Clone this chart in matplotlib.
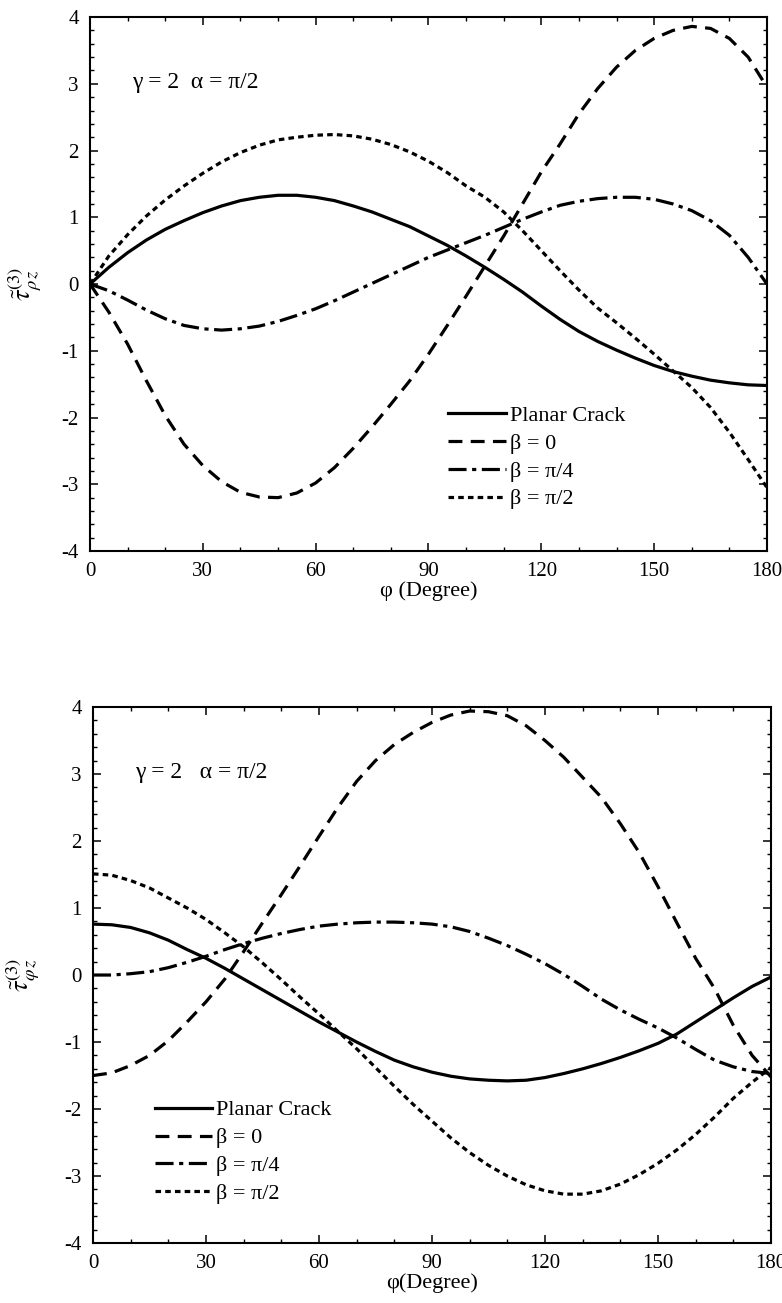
import numpy as np
import matplotlib
matplotlib.use("Agg")
import matplotlib.pyplot as plt
from matplotlib.ticker import MultipleLocator

plt.rcParams["font.family"] = ["Liberation Serif", "DejaVu Serif"]
plt.rcParams["mathtext.fontset"] = "stix"
plt.rcParams["axes.unicode_minus"] = False
plt.rcParams["lines.scale_dashes"] = False

# angle phi in degrees, sampled every 5 degrees
phi = np.arange(0, 181, 5)

# tau_rho_z
rz_planar = [0.00, 0.25, 0.47, 0.66, 0.82, 0.95, 1.07, 1.17, 1.25, 1.30,
             1.33, 1.33, 1.30, 1.25, 1.17, 1.08, 0.97, 0.86, 0.72, 0.58,
             0.42, 0.25, 0.07, -0.12, -0.33, -0.53, -0.71, -0.86, -0.99, -1.11,
             -1.22, -1.31, -1.38, -1.44, -1.48, -1.51, -1.52]
rz_beta0 = [0.00, -0.42, -0.90, -1.45, -1.97, -2.40, -2.72, -2.96, -3.12, -3.19,
            -3.20, -3.13, -2.98, -2.75, -2.46, -2.14, -1.80, -1.45, -1.05, -0.62,
            -0.18, 0.27, 0.72, 1.20, 1.68, 2.10, 2.55, 2.93, 3.25, 3.50,
            3.68, 3.80, 3.86, 3.83, 3.68, 3.40, 2.95]
rz_beta45 = [0.00, -0.10, -0.24, -0.39, -0.52, -0.62, -0.67, -0.69, -0.67, -0.63,
             -0.56, -0.47, -0.37, -0.25, -0.12, 0.01, 0.14, 0.27, 0.40, 0.51,
             0.62, 0.73, 0.85, 0.97, 1.08, 1.18, 1.24, 1.28, 1.30, 1.30,
             1.27, 1.20, 1.10, 0.95, 0.73, 0.40, 0.00]
rz_beta90 = [0.00, 0.42, 0.74, 1.02, 1.26, 1.47, 1.66, 1.83, 1.97, 2.08,
             2.16, 2.20, 2.23, 2.24, 2.22, 2.17, 2.09, 1.98, 1.84, 1.67,
             1.47, 1.30, 1.08, 0.80, 0.50, 0.20, -0.09, -0.36, -0.58, -0.81,
             -1.05, -1.30, -1.55, -1.85, -2.22, -2.63, -3.05]

# tau_phi_z
pz_planar = [0.76, 0.75, 0.71, 0.63, 0.52, 0.38, 0.25, 0.10, -0.06, -0.22,
             -0.38, -0.54, -0.70, -0.85, -1.00, -1.14, -1.27, -1.37, -1.45, -1.51,
             -1.55, -1.57, -1.58, -1.57, -1.53, -1.47, -1.40, -1.32, -1.23, -1.13,
             -1.02, -0.88, -0.70, -0.52, -0.34, -0.17, -0.03]
pz_beta0 = [-1.50, -1.46, -1.35, -1.20, -0.98, -0.70, -0.40, -0.06, 0.35, 0.78,
            1.20, 1.63, 2.07, 2.50, 2.89, 3.20, 3.44, 3.62, 3.77, 3.88,
            3.94, 3.93, 3.87, 3.72, 3.50, 3.25, 2.95, 2.65, 2.26, 1.83,
            1.32, 0.78, 0.25, -0.20, -0.75, -1.20, -1.52]
pz_beta45 = [0.00, 0.00, 0.02, 0.05, 0.11, 0.19, 0.28, 0.38, 0.47, 0.55,
             0.62, 0.68, 0.73, 0.76, 0.78, 0.79, 0.79, 0.78, 0.76, 0.72,
             0.65, 0.55, 0.44, 0.31, 0.17, 0.01, -0.17, -0.36, -0.52, -0.66,
             -0.79, -0.94, -1.11, -1.27, -1.37, -1.44, -1.47]
pz_beta90 = [1.51, 1.49, 1.41, 1.30, 1.15, 1.00, 0.83, 0.63, 0.42, 0.18,
             -0.07, -0.33, -0.58, -0.84, -1.10, -1.38, -1.66, -1.93, -2.18, -2.43,
             -2.65, -2.84, -3.00, -3.13, -3.22, -3.27, -3.27, -3.22, -3.12, -2.98,
             -2.81, -2.61, -2.38, -2.12, -1.84, -1.60, -1.38]

labels = ["Planar Crack", "β = 0", "β = π/4", "β = π/2"]
styles = ["-", (0, (10, 6)), (0, (13, 4, 3, 4)), (0, (4, 3))]


def draw(ax, curves, ylabel, xlabel, note, note_x, leg_anchor):
    for y, lab, ls in zip(curves, labels, styles):
        ax.plot(phi, y, color="black", lw=2.3, linestyle=ls, label=lab)
    ax.set_xlim(0, 180)
    ax.set_ylim(-4, 4)
    ax.xaxis.set_major_locator(MultipleLocator(30))
    ax.xaxis.set_minor_locator(MultipleLocator(10))
    ax.yaxis.set_major_locator(MultipleLocator(1))
    ax.yaxis.set_minor_locator(MultipleLocator(0.2))
    ax.tick_params(which="both", direction="in", top=True, right=True,
                   labelsize=15, pad=8)
    ax.tick_params(which="major", length=6, width=1.1)
    ax.tick_params(which="minor", length=3, width=1.0)
    for s in ax.spines.values():
        s.set_linewidth(1.5)
    ax.set_xlabel(xlabel, fontsize=16, labelpad=0)
    ax.set_ylabel(ylabel, fontsize=19, rotation=90)
    ax.text(note_x, 3.02, note, fontsize=17, va="center")
    ax.legend(loc="upper left", bbox_to_anchor=leg_anchor, frameon=False,
              fontsize=16, handlelength=2.6, handletextpad=0.18,
              labelspacing=0.33, borderpad=0, borderaxespad=0)


fig = plt.figure(figsize=(7.82, 13.03), dpi=100)
ax1 = fig.add_axes([0.1151, 0.5771, 0.8657, 0.4098])
ax2 = fig.add_axes([0.1189, 0.0460, 0.8670, 0.4114])

draw(ax1, [rz_planar, rz_beta0, rz_beta45, rz_beta90],
     r"$\tilde{\tau}^{(3)}_{\rho\,z}$", "φ (Degree)",
     "γ = 2  α = π/2", 11.2, (0.529, 0.273))
draw(ax2, [pz_planar, pz_beta0, pz_beta45, pz_beta90],
     r"$\tilde{\tau}^{(3)}_{\varphi\,z}$", "φ(Degree)",
     "γ = 2   α = π/2", 11.1, (0.091, 0.267))
ax1.yaxis.set_label_coords(-0.068, 0.5)
ax2.yaxis.set_label_coords(-0.075, 0.5)

fig.savefig("out.png", dpi=100)
